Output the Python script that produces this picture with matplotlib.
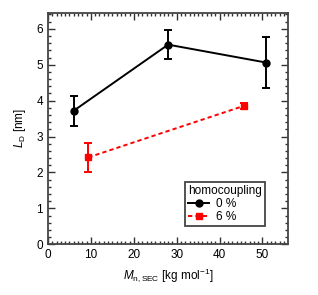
import matplotlib
matplotlib.use("Agg")
import matplotlib.pyplot as plt
from matplotlib.lines import Line2D
from matplotlib.ticker import MultipleLocator

plt.rcParams['font.family'] = ['Liberation Sans', 'DejaVu Sans']
plt.rcParams['mathtext.fontset'] = 'custom'
plt.rcParams['mathtext.rm'] = 'Liberation Sans'
plt.rcParams['mathtext.it'] = 'Liberation Sans:italic'
plt.rcParams['font.size'] = 8.5

# 0 % homocoupling
mn_0 = [6.0, 28.0, 50.9]
ld_0 = [3.72, 5.56, 5.06]
err_0 = [0.42, 0.41, 0.70]

# 6 % homocoupling
mn_6 = [9.4, 45.8]
ld_6 = [2.42, 3.86]
err_6 = [0.40, 0.08]

dash = (0, (2.2, 1.6))

fig = plt.figure(figsize=(3.18, 2.95), dpi=100)
ax = fig.add_axes([0.151, 0.172, 0.754, 0.785])

ax.errorbar(mn_0, ld_0, yerr=err_0, color='black', marker='o', markersize=5,
            linewidth=1.4, elinewidth=1.4, capsize=3, capthick=1.4)
ax.errorbar(mn_6, ld_6, yerr=err_6, color='red', marker='s', markersize=5,
            linewidth=1.4, linestyle=dash, elinewidth=1.4,
            capsize=3, capthick=1.4)

ax.set_xlim(0, 55.9)
ax.set_ylim(0, 6.45)
ax.xaxis.set_major_locator(MultipleLocator(10))
ax.xaxis.set_minor_locator(MultipleLocator(1))
ax.yaxis.set_major_locator(MultipleLocator(1))
ax.yaxis.set_minor_locator(MultipleLocator(0.2))
ax.tick_params(which='both', direction='in', top=True, right=True,
               color='#333333', width=1.0)
ax.tick_params(which='major', length=5)
ax.tick_params(which='minor', length=2.5)
for s in ax.spines.values():
    s.set_linewidth(1.3)
    s.set_color('#444444')

ax.set_xlabel(r'$M_\mathrm{n,SEC}$ [kg mol$^{-1}$]')
ax.set_ylabel(r'$L_\mathrm{D}$ [nm]', labelpad=6)

handles = [
    Line2D([], [], color='black', marker='o', markersize=5, linewidth=1.4),
    Line2D([], [], color='red', marker='s', markersize=5, linewidth=1.4,
           linestyle=dash),
]
leg = ax.legend(handles, ['0 %', '6 %'], title='homocoupling',
                loc='lower left', bbox_to_anchor=(0.571, 0.079),
                fancybox=False, framealpha=1, edgecolor='#444444',
                handlelength=1.8, borderpad=0.25, labelspacing=0.1,
                handletextpad=0.6, borderaxespad=0)
leg.get_frame().set_linewidth(1.3)
leg._legend_box.align = 'left'

fig.savefig('out.png', dpi=100)
